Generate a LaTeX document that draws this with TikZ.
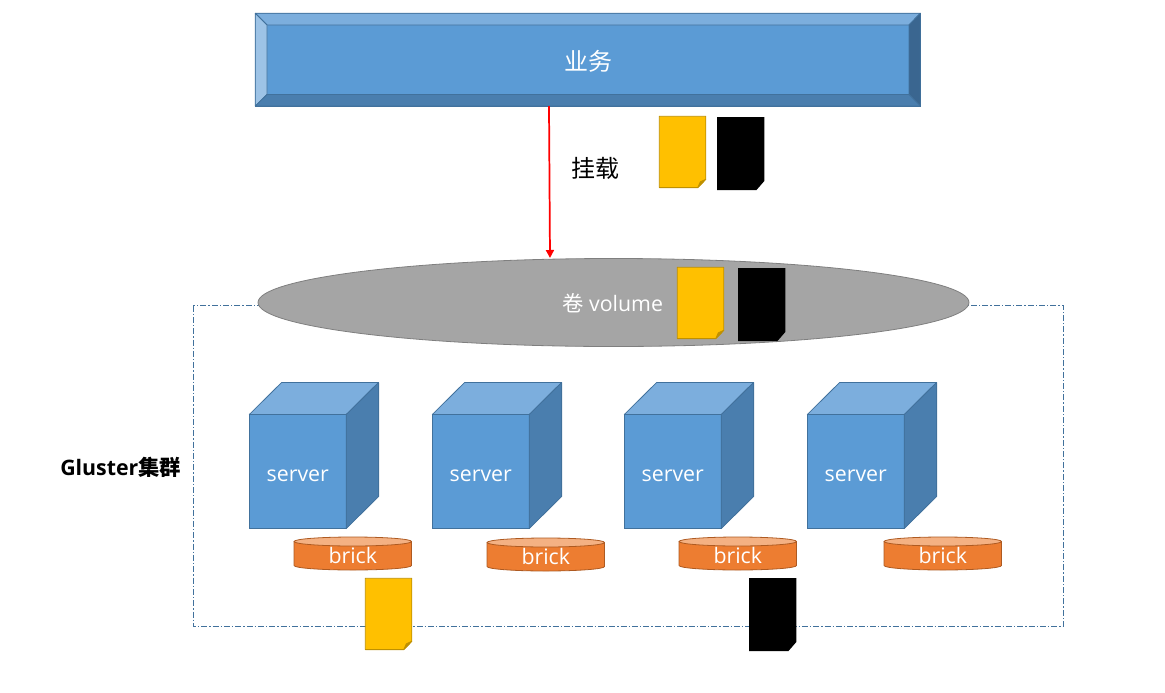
\documentclass[tikz,border=0pt]{standalone}
\usepackage{fontspec}
\setmainfont{Open Sans}
\newfontfamily\cjk{Noto Sans CJK SC}
\usepackage{tikz}
\usetikzlibrary{shapes.geometric}
\usetikzlibrary{arrows.meta}
\definecolor{bluemain}{HTML}{5B9BD5}
\definecolor{bluetop}{HTML}{7CAEDD}
\definecolor{blueleft}{HTML}{9DC3E6}
\definecolor{bluedark}{HTML}{4A7EAE}
\definecolor{blueright}{HTML}{3A6690}
\definecolor{blueline}{HTML}{41719C}
\definecolor{brickbody}{HTML}{ED7D31}
\definecolor{bricktop}{HTML}{F4B183}
\definecolor{brickline}{HTML}{AE5A21}
\definecolor{noteyellow}{HTML}{FFC000}
\definecolor{notefold}{HTML}{BF9000}
\definecolor{volumefill}{HTML}{A5A5A5}
\definecolor{volumeline}{HTML}{7F7F7F}
\tikzset{
	whitelabel/.style={text=white,inner sep=0pt,font=\fontsize{16}{18}\selectfont},
	blacklabel/.style={text=black,inner sep=0pt},
	facet/.style={draw=blueline,line width=.6pt,line join=round},
	brick/.style={rectangle,outer sep=0pt,inner sep=0pt,minimum height=33*.75pt,minimum width=117.5*.75pt},
	brickpart/.style={draw=brickline,line width=.6pt,line join=round},
	mount/.style={draw=red,line width=1.3pt,-{Triangle[length=6pt,width=6pt]}}
}
% yellow note, upper left corner at #1
\newcommand{\yellownote}[1]{
	\draw [fill=noteyellow,draw=notefold,line width=.6pt,line join=round,shift={#1}] (0,0) -- (46.5,0) -- (46.5,63) -- (38.5,71.3) -- (0,71.3) -- cycle;
	\draw [fill=notefold,draw=notefold,line width=.6pt,line join=round,shift={#1}] (46.5,63) -- (41,65.5) -- (38.5,71.3) -- cycle;
}
% black note, upper left corner at #1
\newcommand{\blacknote}[1]{
	\fill [black,shift={#1}] (0,0) -- (47.3,0) -- (47.3,64) -- (39.5,73) -- (0,73) -- cycle;
}
\begin{document}
\begin{tikzpicture}[x=.75pt,y=-.75pt]
	\useasboundingbox (0,0) rectangle (1165,693);
	
	% Top bar
	\node [rectangle,draw=blueline,fill=bluemain,line width=.6pt,outer sep=0pt,minimum width=665*.75pt,minimum height=93*.75pt,inner sep=0pt] (bar) at (587.8,59.7) {};
	\draw [facet,fill=bluetop] (255.3,13.3) -- (920.3,13.3) -- (909,25) -- (267,25) -- cycle;
	\draw [facet,fill=blueleft] (255.3,13.3) -- (267,25) -- (267,94.5) -- (255.3,106) -- cycle;
	\draw [facet,fill=blueright] (920.3,13.3) -- (909,25) -- (909,94.5) -- (920.3,106) -- cycle;
	\draw [facet,fill=bluedark] (255.3,106) -- (267,94.5) -- (909,94.5) -- (920.3,106) -- cycle;
	\node [whitelabel,font=\fontsize{18}{20}\selectfont\cjk] (barlabel) at (588,61) {业务};
	
	% Cluster frame
	\draw [draw=blueline,line width=.6pt,dash pattern=on 4.5pt off 1.5pt on 1pt off 1.5pt] (193.3,305.5) rectangle (1063.3,626.3);
	
	% Volume
	\node [ellipse,draw=volumeline,fill=volumefill,line width=.6pt,outer sep=0pt,minimum width=711*.75pt,minimum height=88*.75pt,inner sep=0pt] (volume) at (613.5,302.5) {};
	\node [whitelabel,anchor=west] (volumelabel) at (562,303) {{\cjk 卷} volume};
	
	% Mount
	\node [blacklabel,font=\fontsize{18}{20}\selectfont\cjk] (mountlabel) at (595.5,168) {挂载};
	\coordinate (mountfrom) at (549,106);
	\coordinate (mountto) at (550,258);
	\draw [mount] (mountfrom) -- (mountto);
	
	% Servers
	\foreach \x/\name in {249.3/one,432.3/two,624.3/three,807.3/four}{
		\node [rectangle,facet,fill=bluemain,outer sep=0pt,minimum width=97*.75pt,minimum height=114*.75pt,inner sep=0pt,anchor=north west] (server\name) at (\x,414.5) {};
		\draw [facet,fill=bluetop] (server\name.north west) -- ++(32.3,-32) -- ++(97,0) -- (server\name.north east) -- cycle;
		\draw [facet,fill=bluedark] (server\name.north east) -- ++(32.3,-32) -- ++(0,114) -- (server\name.south east) -- cycle;
		\node [whitelabel,yshift=-3pt] (label\name) at (server\name) {server};
	}
	
	% Bricks
	\foreach \x/\y/\name in {352.8/553.5/one,545.8/554.5/two,737.8/553.5/three,942.8/553.5/four}{
		\node [brick] (brick\name) at (\x,\y) {};
		\draw [brickpart,fill=brickbody] (brick\name.west) ++(0,-12) -- ++(0,24) arc [start angle=180,end angle=0,x radius=58.75,y radius=4.5] -- ++(0,-24) -- cycle;
		\draw [brickpart,fill=bricktop] (brick\name.center) ++(0,-12) circle [x radius=58.75,y radius=4.5];
		\node [whitelabel] (bricklabel\name) at (\x,\y+2) {brick};
	}
	
	% Notes
	\yellownote{(659.3,116.3)}
	\blacknote{(717,117)}
	\yellownote{(677.3,267.3)}
	\blacknote{(738,268)}
	\yellownote{(365.3,578.3)}
	\blacknote{(749,578)}
	
	\node [blacklabel,anchor=west,font=\fontsize{16}{18}\selectfont\bfseries] (cluster) at (60,467) {Gluster{\cjk 集群}};
\end{tikzpicture}
\end{document}
